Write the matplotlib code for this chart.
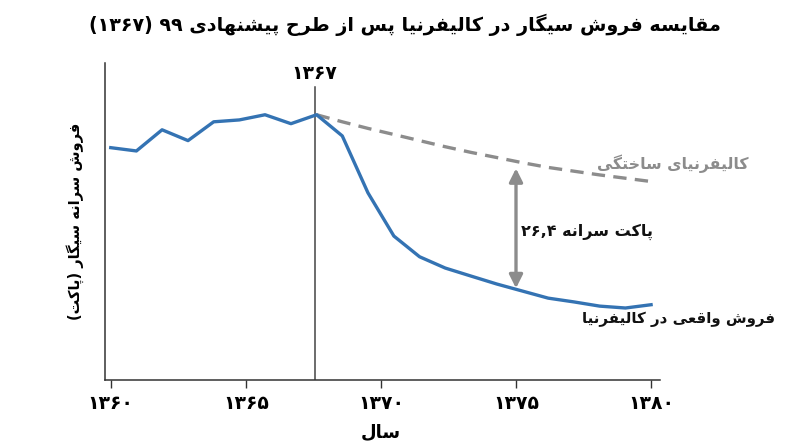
import matplotlib
matplotlib.use('Agg')
import matplotlib.pyplot as plt

# year positions of the plotted points
years = [1360.0, 1360.95, 1361.9, 1362.86, 1363.81, 1364.76, 1365.71, 1366.67,
         1367.62, 1368.57, 1369.52, 1370.48, 1371.43, 1372.38, 1373.33, 1374.29,
         1375.24, 1376.19, 1377.14, 1378.1, 1379.05, 1380.0]

# real california per-capita sales (packs)
real_sales = [79.4, 78.7, 83.2, 80.9, 84.9, 85.3, 86.4, 84.5,
              86.4, 81.9, 69.8, 60.6, 56.2, 53.8, 52.1, 50.4,
              48.9, 47.4, 46.6, 45.7, 45.3, 46.0]

# synthetic california, from the policy year on
synth_years = years[8:]
synth_sales = [86.4, 84.9, 83.5, 82.2, 80.9, 79.6, 78.4, 77.3,
               76.2, 75.2, 74.4, 73.6, 72.9, 72.2]

policy_year = 1367.55
gap_year = 1375
tick_years = [1360, 1365, 1370, 1375, 1380]
tick_labels = ['۱۳۶۰', '۱۳۶۵', '۱۳۷۰', '۱۳۷۵', '۱۳۸۰']

title = 'مقایسه فروش سیگار در کالیفرنیا پس از طرح پیشنهادی ۹۹ (۱۳۶۷)'
ylabel = 'فروش سرانه سیگار (پاکت)'
xlabel = 'سال'
synth_label = 'کالیفرنیای ساختگی'
real_label = 'فروش واقعی در کالیفرنیا'
gap_number = '۲۶,۴'
gap_words = 'پاکت سرانه'
policy_label = '۱۳۶۷'

BLUE = '#3473b3'
GRAY = '#8c8c8c'

# matplotlib does no arabic shaping or bidi, so pick the contextual forms here
# (isolated, final, initial, medial)
FORMS = {
    'ا': ('\uFE8D', '\uFE8E', None, None),
    'د': ('\uFEA9', '\uFEAA', None, None),
    'ر': ('\uFEAD', '\uFEAE', None, None),
    'ز': ('\uFEAF', '\uFEB0', None, None),
    'و': ('\uFEED', '\uFEEE', None, None),
    'ب': ('\uFE8F', '\uFE90', '\uFE91', '\uFE92'),
    'پ': ('\uFB56', '\uFB57', '\uFB58', '\uFB59'),
    'ت': ('\uFE95', '\uFE96', '\uFE97', '\uFE98'),
    'ح': ('\uFEA1', '\uFEA2', '\uFEA3', '\uFEA4'),
    'خ': ('\uFEA5', '\uFEA6', '\uFEA7', '\uFEA8'),
    'س': ('\uFEB1', '\uFEB2', '\uFEB3', '\uFEB4'),
    'ش': ('\uFEB5', '\uFEB6', '\uFEB7', '\uFEB8'),
    'ط': ('\uFEC1', '\uFEC2', '\uFEC3', '\uFEC4'),
    'ع': ('\uFEC9', '\uFECA', '\uFECB', '\uFECC'),
    'ف': ('\uFED1', '\uFED2', '\uFED3', '\uFED4'),
    'ق': ('\uFED5', '\uFED6', '\uFED7', '\uFED8'),
    'ک': ('\uFB8E', '\uFB8F', '\uFB90', '\uFB91'),
    'گ': ('\uFB92', '\uFB93', '\uFB94', '\uFB95'),
    'ل': ('\uFEDD', '\uFEDE', '\uFEDF', '\uFEE0'),
    'م': ('\uFEE1', '\uFEE2', '\uFEE3', '\uFEE4'),
    'ن': ('\uFEE5', '\uFEE6', '\uFEE7', '\uFEE8'),
    'ه': ('\uFEE9', '\uFEEA', '\uFEEB', '\uFEEC'),
    'ی': ('\uFBFC', '\uFBFD', '\uFBFE', '\uFBFF'),
}
DIGITS = set('۰۱۲۳۴۵۶۷۸۹0123456789,٫.')
MIRROR = {'(': ')', ')': '('}


def shape(text):
    out = []
    n = len(text)
    for i, c in enumerate(text):
        if c not in FORMS:
            out.append(c)
            continue
        prev = text[i - 1] if i > 0 else None
        nxt = text[i + 1] if i < n - 1 else None
        iso, fin, ini, med = FORMS[c]
        join_prev = prev in FORMS and FORMS[prev][2] is not None
        join_next = ini is not None and nxt in FORMS
        if join_prev and join_next:
            out.append(med)
        elif join_prev:
            out.append(fin)
        elif join_next:
            out.append(ini)
        else:
            out.append(iso)
    # right-to-left: reverse, but keep number runs left-to-right
    vis = [MIRROR.get(c, c) for c in reversed(out)]
    res, run = [], []
    for c in vis:
        if c in DIGITS:
            run.append(c)
        else:
            res.extend(reversed(run))
            run = []
            res.append(c)
    res.extend(reversed(run))
    return ''.join(res)


plt.rcParams['font.family'] = ['DejaVu Sans']
plt.rcParams['font.weight'] = 'bold'

fig = plt.figure(figsize=(8, 4.47), dpi=100)
ax = fig.add_axes([0.131, 0.150, 0.694, 0.709])

ax.plot(synth_years, synth_sales, color=GRAY, lw=2.4, dashes=(4, 2.5), zorder=2)
ax.plot(years, real_sales, color=BLUE, lw=2.4, zorder=3)

ax.set_xlim(1359.78, 1380.33)
ax.set_ylim(30, 97.4)

ax.plot([policy_year, policy_year], [30, 92.3], color='#444444', lw=1.1, zorder=1)
ax.text(policy_year, 95.2, policy_label, ha='center', va='center', fontsize=13.5,
        fontweight='bold', clip_on=False)

# gap arrow between real and synthetic
i = 16
ax.annotate('', xy=(gap_year, real_sales[i] + 0.6), xytext=(gap_year, synth_sales[i - 8] - 1.2),
            arrowprops=dict(arrowstyle='<|-|>', color=GRAY, lw=2.4,
                            mutation_scale=20, shrinkA=0, shrinkB=0))
ax.text(gap_year + 0.2, 61.4, gap_number + ' ' + shape(gap_words), ha='left', va='center',
        fontsize=11.5, fontweight='bold', color='#111111')

ax.text(1380.8, 75.9, shape(synth_label), ha='center', va='center', fontsize=11.3,
        fontweight='bold', color=GRAY, clip_on=False)
ax.text(1381.0, 42.8, shape(real_label), ha='center', va='center', fontsize=10.8,
        fontweight='bold', color='#111111', clip_on=False)

for side in ['top', 'right']:
    ax.spines[side].set_visible(False)
for side in ['left', 'bottom']:
    ax.spines[side].set_color('#333333')
    ax.spines[side].set_linewidth(1.1)

ax.set_yticks([])
ax.set_xticks(tick_years)
ax.set_xticklabels(tick_labels, fontsize=13.5, fontweight='bold')
ax.tick_params(axis='x', length=6, width=1, color='#333333', pad=4)

ax.set_ylabel(shape(ylabel), fontsize=10.5, fontweight='bold', va='center')
ax.yaxis.set_label_coords(-0.054, 0.5)
ax.set_xlabel(shape(xlabel), fontsize=13, fontweight='bold', va='center')
ax.xaxis.set_label_coords(0.497, -0.164)

fig.text(0.506, 0.944, shape(title), ha='center', va='center', fontsize=13.8,
         fontweight='bold')

fig.savefig('out.png', dpi=100)
